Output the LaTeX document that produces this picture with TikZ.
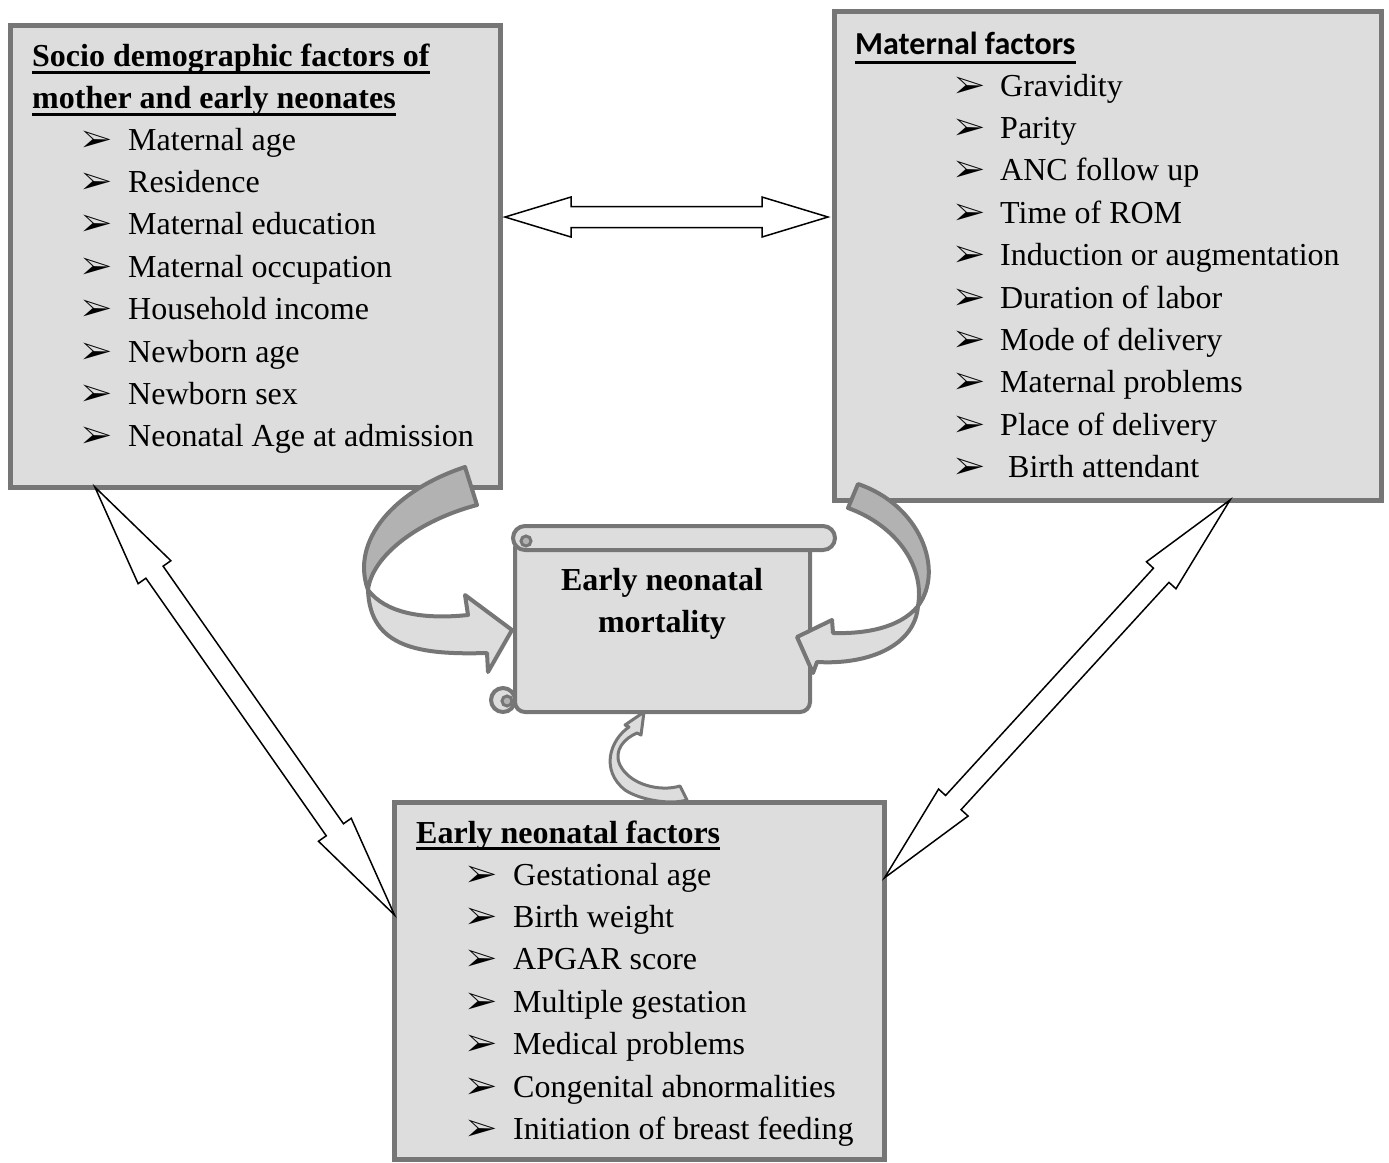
\documentclass[tikz,border=0pt]{standalone}
\usepackage{fontspec}
\setmainfont{Liberation Serif}
\newfontfamily\calib{Carlito}
\usepackage{pifont}
\usepackage{tikz}
\usetikzlibrary{calc}

\definecolor{boxfill}{RGB}{221,221,221}
\definecolor{boxline}{RGB}{118,118,118}
\definecolor{ribdark}{RGB}{178,178,178}

\newcommand{\bigtxt}{\fontsize{32}{42.4}\selectfont}
% hollow block arrow with a head at both ends: tip, tip, head length
\newcommand{\dblarrow}[3]{%
  \coordinate (da1) at ($(#1)!#3!(#2)$);
  \coordinate (da2) at ($(#2)!#3!(#1)$);
  \draw[dbl] (#1) -- ($(da1)!20pt!90:(#1)$) -- ($(da1)!10.5pt!90:(#1)$)
    -- ($(da2)!10.5pt!-90:(#2)$) -- ($(da2)!20pt!-90:(#2)$) -- (#2)
    -- ($(da2)!20pt!90:(#2)$) -- ($(da2)!10.5pt!90:(#2)$)
    -- ($(da1)!10.5pt!-90:(#1)$) -- ($(da1)!20pt!-90:(#1)$) -- cycle;
}

\begin{document}
\begin{tikzpicture}[x=1pt, y=-1pt,
    box/.style={draw=boxline, fill=boxfill, line width=5pt, outer sep=0pt, anchor=north west},
    itm/.style={anchor=base west, inner sep=0pt, font=\bigtxt},
    head/.style={anchor=base west, inner sep=0pt, font=\bigtxt\bfseries},
    uline/.style={line width=3pt},
    rib/.style={draw=boxline, line width=4pt, line join=round},
    dbl/.style={draw=black, fill=white, line width=1.5pt}]
    \useasboundingbox (0,0) rectangle (1389,1162);

    % the three factor boxes
    \node[box, minimum width=490.5pt, minimum height=461.5pt] (socio) at (10,25.5) {};
    \node[box, minimum width=547pt, minimum height=488.5pt] (mat) at (834,11.5) {};
    \node[box, minimum width=490pt, minimum height=357pt] (neo) at (394.5,802.5) {};

    \node[head] (sh1) at (32,66.5) {Socio demographic factors of};
    \node[head] (sh2) at (32,108.5) {mother and early neonates};
    \node[head, font=\bigtxt\calib\bfseries] (mh) at (855,54) {Maternal factors};
    \node[head] (nh) at (416,843) {Early neonatal factors};
    \foreach \h in {sh1,sh2,nh}
        \draw[uline] ($(\h.base west)+(0,5.5)$) -- ($(\h.base east)+(0,5.5)$);
    \draw[uline] ($(mh.base west)+(0,8.5)$) -- ($(mh.base east)+(0,8.5)$);

    \foreach \t [count=\i] in {Maternal age, Residence, Maternal education, Maternal occupation,
        Household income, Newborn age, Newborn sex, Neonatal Age at admission} {
        \node[itm] (sb\i) at (82,{107.6+42.4*\i}) {\ding{226}};
        \node[itm] (si\i) at (128,{107.6+42.4*\i}) {\t};
    }
    \foreach \t [count=\i] in {Gravidity, Parity, ANC follow up, Time of ROM, Induction or augmentation,
        Duration of labor, Mode of delivery, Maternal problems, Place of delivery, \ Birth attendant} {
        \node[itm] (mb\i) at (955,{53.6+42.4*\i}) {\ding{226}};
        \node[itm] (mi\i) at (1000,{53.6+42.4*\i}) {\t};
    }
    \foreach \t [count=\i] in {Gestational age, Birth weight, APGAR score, Multiple gestation,
        Medical problems, Congenital abnormalities, Initiation of breast feeding} {
        \node[itm] (nb\i) at (467,{842.6+42.4*\i}) {\ding{226}};
        \node[itm] (ni\i) at (513,{842.6+42.4*\i}) {\t};
    }

    % scroll in the middle
    \node[draw=boxline, fill=boxfill, line width=4pt, rounded corners=10pt, outer sep=0pt,
        minimum width=295pt, minimum height=174pt, anchor=north west] (scroll) at (515,538) {};
    \draw[draw=boxline, fill=boxfill, line width=4pt, rounded corners=12pt] (513,526) rectangle (835,550);
    \draw[draw=boxline, fill=ribdark, line width=3pt] (526,541) circle (5pt);
    \draw[draw=boxline, fill=boxfill, line width=4pt] (503,700) circle (12pt);
    \draw[draw=boxline, fill=ribdark, line width=3pt] (507,701) circle (5pt);
    \node[anchor=north, inner sep=0pt, align=center, font=\bigtxt\bfseries] (mort) at (662,568)
        {Early neonatal\\mortality};

    % curved arrows into the scroll
    \draw[rib, fill=ribdark] (465,467) .. controls (395,490) and (350,540) .. (368,590)
        .. controls (372,555) and (420,520) .. (477,505) -- cycle;
    \draw[rib, fill=boxfill] (368,590) .. controls (370,648) and (420,655) .. (487,653)
        -- (488,672) -- (512,630) -- (465,595) -- (468,615)
        .. controls (420,620) and (385,612) .. (368,590) -- cycle;
    \draw[rib, fill=ribdark] (858,484) .. controls (920,505) and (945,570) .. (918,606)
        .. controls (925,565) and (895,525) .. (848,508) -- cycle;
    \draw[rib, fill=boxfill] (918,606) .. controls (900,628) and (865,634) .. (833,633)
        -- (832,620) -- (797,637) -- (813,673) -- (817,662)
        .. controls (870,665) and (915,645) .. (918,606) -- cycle;
    \draw[rib, line width=3pt, fill=boxfill] (687,800) -- (680,786)
        .. controls (660,792) and (630,785) .. (620,765)
        .. controls (613,750) and (625,738) .. (637,733) -- (641,735) -- (644,712)
        -- (625,725) -- (629,727) .. controls (610,740) and (600,770) .. (625,790)
        .. controls (640,800) and (670,805) .. (687,800) -- cycle;

    % two-headed arrows between the boxes
    \coordinate (sm1) at ($(socio.north east)!0.415!(socio.south east)+(4.5,0)$);
    \coordinate (sm2) at ($(mat.north west)!0.4207!(mat.south west)+(-6,0)$);
    \coordinate (sn1) at ($(socio.south west)!0.173!(socio.south east)$);
    \coordinate (sn2) at ($(neo.north west)!0.315!(neo.south west)$);
    \coordinate (mn1) at ($(mat.south west)!0.724!(mat.south east)$);
    \coordinate (mn2) at ($(neo.north east)!0.211!(neo.south east)$);
    \dblarrow{sm1}{sm2}{66pt}
    \dblarrow{sn1}{sn2}{104pt}
    \dblarrow{mn1}{mn2}{102pt}
\end{tikzpicture}
\end{document}
